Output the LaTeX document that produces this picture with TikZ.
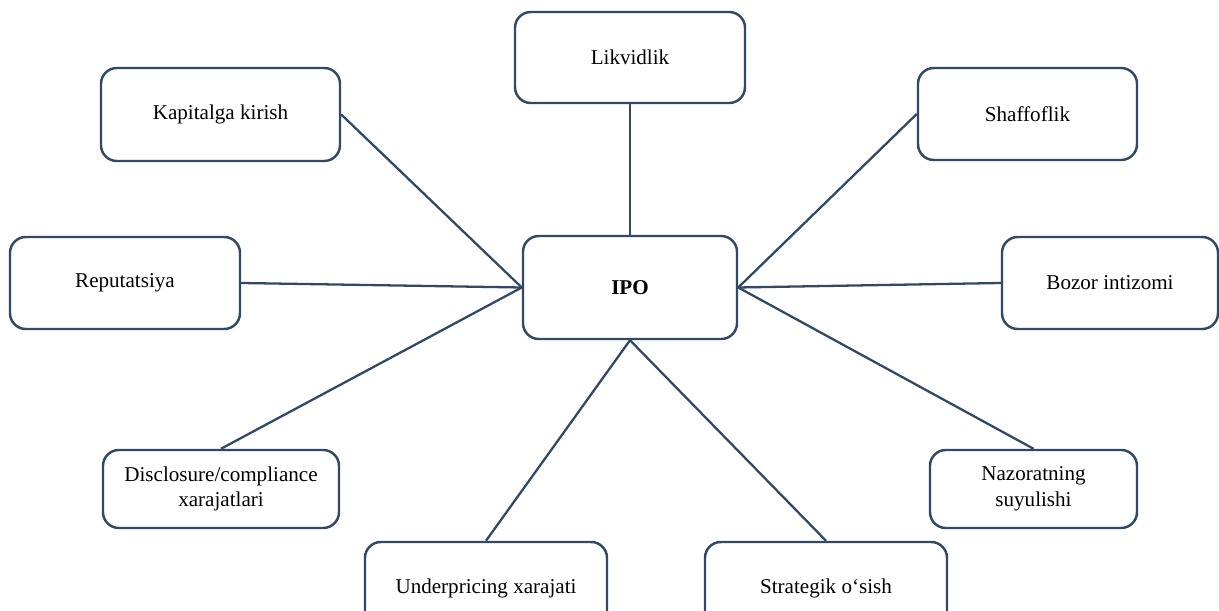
\documentclass[tikz,border=0pt]{standalone}
\usepackage{fontspec}
\setmainfont{Liberation Serif}
\usetikzlibrary{positioning}

\definecolor{boxline}{RGB}{50,72,100}

\begin{document}
\begin{tikzpicture}[
  font=\fontsize{12}{14.5}\selectfont,
  item/.style={rectangle, rounded corners=9pt, draw=boxline, line width=1.4pt,
               minimum height=18.4mm, minimum width=44mm, inner sep=3pt, fill=white, align=center},
  low/.style={item, minimum height=15.6mm},
  hub/.style={item, font=\fontsize{12}{14.5}\selectfont\bfseries,
              minimum width=42.8mm, minimum height=20.6mm},
  link/.style={draw=boxline, line width=1.3pt}
]
\useasboundingbox (0,0) rectangle (24.38,-12.22);

\node[hub] (ipo) at (12.6,-5.75) {IPO};

\node[item, minimum width=46mm, minimum height=18.2mm] (liq) at (12.6,-1.15) {Likvidlik};
\node[item, minimum width=47.8mm, minimum height=18.6mm] (kap) at (4.41,-2.29) {Kapitalga kirish};
\node[item, minimum width=43.8mm] (shf) at (20.55,-2.28) {Shaffoflik};
\node[item, minimum width=46mm] (rep) at (2.5,-5.66) {Reputatsiya};
\node[item, minimum width=43.2mm] (boz) at (22.2,-5.66) {Bozor intizomi};
\node[low, minimum width=47.2mm] (dis) at (4.42,-9.78) {Disclosure/compliance\\xarajatlari};
\node[low, minimum width=41.4mm] (naz) at (20.67,-9.78) {Nazoratning\\suyulishi};
\node[item, minimum width=48.4mm] (und) at (9.72,-11.76) {Underpricing xarajati};
\node[item, minimum width=48.4mm] (str) at (16.52,-11.76) {Strategik o‘sish};

% spokes
\draw[link] (liq.south) -- (ipo.north);
\draw[link] (kap.east) -- (ipo.west);
\draw[link] (rep.east) -- (ipo.west);
\draw[link] (dis.north) -- (ipo.west);
\draw[link] (shf.west) -- (ipo.east);
\draw[link] (boz.west) -- (ipo.east);
\draw[link] (naz.north) -- (ipo.east);
\draw[link] (und.north) -- (ipo.south);
\draw[link] (str.north) -- (ipo.south);
\end{tikzpicture}
\end{document}
